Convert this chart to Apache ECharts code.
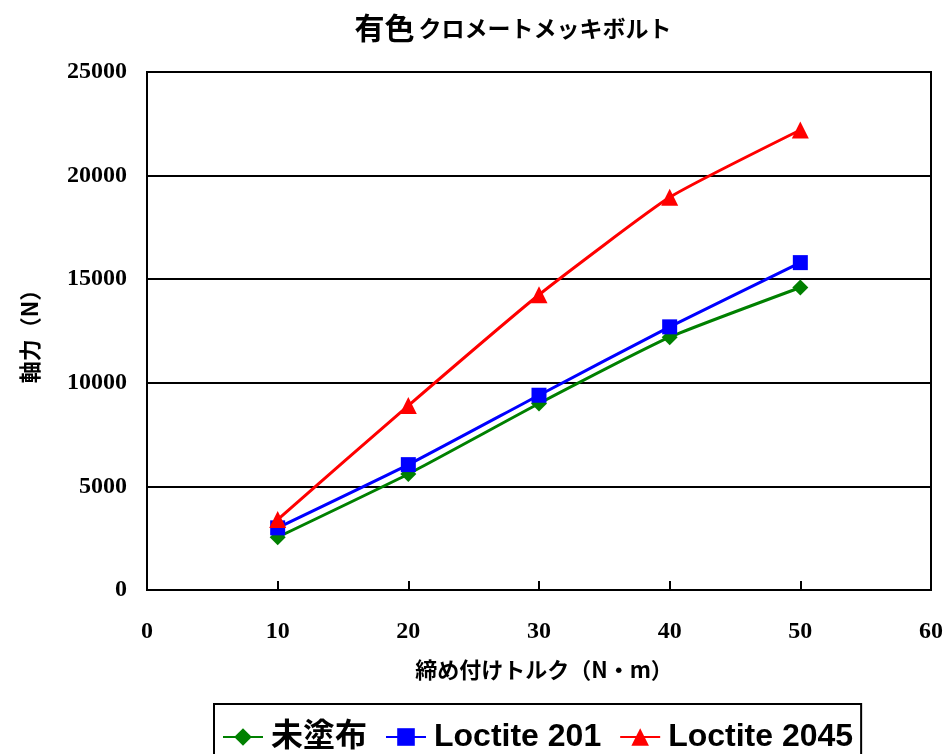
<!DOCTYPE html>
<html><head><meta charset="utf-8">
<script src="https://cdn.jsdelivr.net/npm/echarts@6/dist/echarts.min.js"></script>
<style>html,body{margin:0;padding:0;background:#fff}#c{width:947px;height:754px}</style>
</head><body><div id="c"></div>
<script>
const torque = [10, 20, 30, 40, 50];
const uncoated = [2550, 5600, 9000, 12200, 14600];
const loctite201 = [3000, 6050, 9400, 12700, 15800];
const loctite2045 = [3400, 8900, 14250, 18950, 22200];
const seriesNames = ['未塗布', 'Loctite 201', 'Loctite 2045'];
const titleKanji = '有色';
const titleKana = 'クロメートメッキボルト';
const xTitle = '締め付けトルク（N・m）';
const yTitle = '軸力（N）';

const sans = '"Liberation Sans","Noto Sans CJK JP",sans-serif';
const cjk = '"Noto Sans CJK JP","Liberation Sans",sans-serif';
const serif = '"Liberation Serif","Times New Roman",serif';
const pairs = arr => torque.map((t, i) => [t, arr[i]]);

const chart = echarts.init(document.getElementById('c'));
chart.setOption({
  animation: false,
  title: {
    text: '{a|' + titleKanji + '}{b|' + titleKana + '}', left: 508, top: 8, textAlign: 'center',
    textStyle: {
      rich: {
        a: { fontFamily: cjk, fontSize: 30, fontWeight: 'bold', color: '#000', padding: [0, 4, 0, 0] },
        b: { fontFamily: cjk, fontSize: 23, fontWeight: 'bold', color: '#000' }
      }
    }
  },
  grid: { left: 147, right: 16, top: 72, bottom: 164, show: true, borderColor: '#000', borderWidth: 2, backgroundColor: 'transparent' },
  xAxis: {
    type: 'value', min: 0, max: 60, interval: 10,
    name: xTitle, nameLocation: 'middle', nameGap: 69,
    nameTextStyle: { fontFamily: cjk, fontSize: 22, fontWeight: 'bold', color: '#000', padding: [0, 0, 0, 10] },
    axisLine: { lineStyle: { color: '#000', width: 2 } },
    axisTick: { inside: true, length: 9, lineStyle: { color: '#000', width: 2 } },
    axisLabel: { margin: 30, fontFamily: serif, fontSize: 24, fontWeight: 'bold', color: '#000' },
    splitLine: { show: false }
  },
  yAxis: {
    type: 'value', min: 0, max: 25000, interval: 5000,
    name: yTitle, nameLocation: 'middle', nameGap: 106, nameRotate: 90,
    nameTextStyle: { fontFamily: cjk, fontSize: 22, fontWeight: 'bold', color: '#000' },
    axisLine: { show: true, lineStyle: { color: '#000', width: 2 } },
    axisTick: { show: false },
    axisLabel: { margin: 20, fontFamily: serif, fontSize: 24, fontWeight: 'bold', color: '#000',
      formatter: v => String(v) },
    splitLine: { lineStyle: { color: '#000', width: 2 } }
  },
  legend: {
    left: 214, top: 704, orient: 'horizontal',
    borderColor: '#000', borderWidth: 2, padding: [17, 8, 20, 8],
    itemWidth: 40, itemHeight: 22, itemGap: 18,
    textStyle: { fontFamily: sans, fontSize: 32, fontWeight: 'bold', color: '#000', padding: [0, 0, 0, 3] },
    data: seriesNames
  },
  series: [
    { name: seriesNames[0], type: 'line', data: pairs(uncoated), smooth: 0.15,
      symbol: 'diamond', symbolSize: 16, color: '#008000', lineStyle: { width: 3 } },
    { name: seriesNames[1], type: 'line', data: pairs(loctite201), smooth: 0.15,
      symbol: 'rect', symbolSize: 15, color: '#0000ff', lineStyle: { width: 3 } },
    { name: seriesNames[2], type: 'line', data: pairs(loctite2045), smooth: 0.15,
      symbol: 'triangle', symbolSize: 17, color: '#ff0000', lineStyle: { width: 3 } }
  ]
});
</script></body></html>
